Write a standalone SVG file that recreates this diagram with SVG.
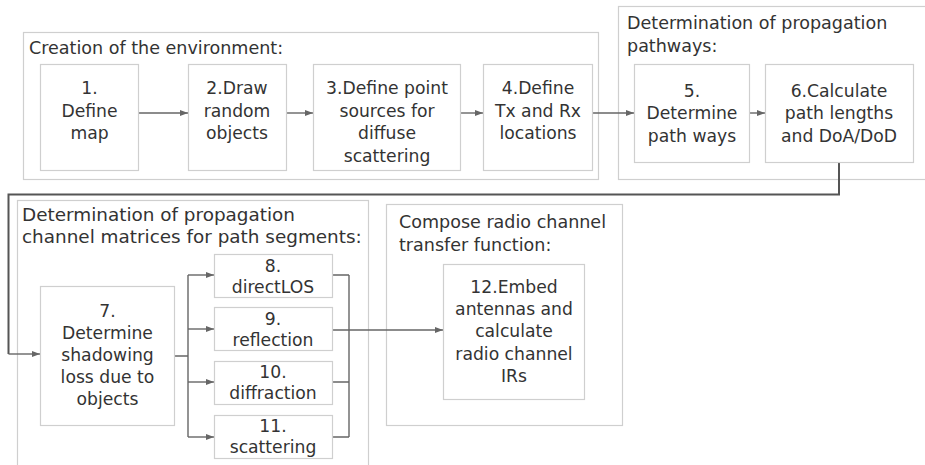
<svg xmlns="http://www.w3.org/2000/svg" width="925" height="465" viewBox="0 0 925 465">
<defs>
<marker id="ah" markerUnits="userSpaceOnUse" markerWidth="10" markerHeight="8" refX="8" refY="4" orient="auto">
<path d="M0,1 L8,4 L0,7 Z" fill="#666"/>
</marker>
<style>
.grp{fill:none;stroke:#cfcfcf;stroke-width:1.2}
.box{fill:#fff;stroke:#cfcfcf;stroke-width:1.2}
text{font-family:"DejaVu Sans","Liberation Sans",sans-serif;font-size:17.2px;fill:#333}
.t{font-size:17.55px}
.t3{font-size:18.4px}
.c{text-anchor:middle}
.ln{fill:none;stroke:#666;stroke-width:1.4}
.lnd{fill:none;stroke:#555;stroke-width:2}
</style>
</defs>
<rect width="925" height="465" fill="#fff"/>
<g id="group-environment">
<rect class="grp" x="23.5" y="32.5" width="575" height="147"/>
<text class="t" x="29" y="54">Creation of the environment:</text>
</g>
<g id="group-pathways">
<rect class="grp" x="618.5" y="6.5" width="310" height="173"/>
<text class="t" x="627" y="29">Determination of propagation</text>
<text class="t" x="627" y="52">pathways:</text>
</g>
<g id="group-matrices">
<rect class="grp" x="17.5" y="200.5" width="351" height="270"/>
<text class="t3" x="22" y="221">Determination of propagation</text>
<text class="t3" x="22" y="243">channel matrices for path segments:</text>
</g>
<g id="group-compose">
<rect class="grp" x="386.5" y="204.5" width="236" height="221"/>
<text class="t" x="399" y="228">Compose radio channel</text>
<text class="t" x="399" y="251">transfer function:</text>
</g>
<g id="connectors">
<path class="ln" d="M139,113 H188" marker-end="url(#ah)"/>
<path class="ln" d="M286,113 H313" marker-end="url(#ah)"/>
<path class="ln" d="M460,113 H483" marker-end="url(#ah)"/>
<path class="ln" d="M592,113 H634" marker-end="url(#ah)"/>
<path class="ln" d="M749,113 H765" marker-end="url(#ah)"/>
<path class="lnd" d="M839,162 V194.5 H8.5 V354"/>
<path class="ln" d="M8.5,354 H40" marker-end="url(#ah)"/>
<path class="ln" d="M175,356 H188 M188,275 V437"/>
<path class="ln" d="M188,275 H214" marker-end="url(#ah)"/>
<path class="ln" d="M188,329 H214" marker-end="url(#ah)"/>
<path class="ln" d="M188,382 H214" marker-end="url(#ah)"/>
<path class="ln" d="M188,437 H214" marker-end="url(#ah)"/>
<path class="ln" d="M332,275 H349 M332,330 H349 M332,382 H349 M332,437 H349 M349,275 V437"/>
<path class="ln" d="M349,330 H443" marker-end="url(#ah)"/>
</g>
<g id="n1">
<rect class="box" x="40.5" y="64.5" width="98" height="106"/>
<text class="c" x="89.5" y="94">1.</text>
<text class="c" x="89.5" y="117">Define</text>
<text class="c" x="89.5" y="139">map</text>
</g>
<g id="n2">
<rect class="box" x="188.5" y="64.5" width="98" height="106"/>
<text class="c" x="237" y="94">2.Draw</text>
<text class="c" x="237" y="117">random</text>
<text class="c" x="237" y="139">objects</text>
</g>
<g id="n3">
<rect class="box" x="313.5" y="64.5" width="147" height="106"/>
<text class="c" x="387" y="94">3.Define point</text>
<text class="c" x="387" y="117">sources for</text>
<text class="c" x="387" y="139">diffuse</text>
<text class="c" x="387" y="162">scattering</text>
</g>
<g id="n4">
<rect class="box" x="483.5" y="64.5" width="109" height="106"/>
<text class="c" x="538" y="94">4.Define</text>
<text class="c" x="538" y="117">Tx and Rx</text>
<text class="c" x="538" y="139">locations</text>
</g>
<g id="n5">
<rect class="box" x="634.5" y="64.5" width="115" height="98"/>
<text class="c" x="692" y="97">5.</text>
<text class="c" x="692" y="119">Determine</text>
<text class="c" x="692" y="142">path ways</text>
</g>
<g id="n6">
<rect class="box" x="765.5" y="64.5" width="148" height="98"/>
<text class="c" x="839" y="97">6.Calculate</text>
<text class="c" x="839" y="119">path lengths</text>
<text class="c" x="839" y="142">and DoA/DoD</text>
</g>
<g id="n7">
<rect class="box" x="40.5" y="286.5" width="134" height="139"/>
<text class="c" x="107.5" y="317">7.</text>
<text class="c" x="107.5" y="339">Determine</text>
<text class="c" x="107.5" y="361">shadowing</text>
<text class="c" x="107.5" y="383">loss due to</text>
<text class="c" x="107.5" y="405">objects</text>
</g>
<g id="n8">
<rect class="box" x="214.5" y="254.5" width="118" height="43"/>
<text class="c" x="273" y="272">8.</text>
<text class="c" x="273" y="293">directLOS</text>
</g>
<g id="n9">
<rect class="box" x="214.5" y="307.5" width="118" height="43"/>
<text class="c" x="273" y="325">9.</text>
<text class="c" x="273" y="346">reflection</text>
</g>
<g id="n10">
<rect class="box" x="214.5" y="361.5" width="118" height="43"/>
<text class="c" x="273" y="378">10.</text>
<text class="c" x="273" y="399">diffraction</text>
</g>
<g id="n11">
<rect class="box" x="214.5" y="415.5" width="118" height="43"/>
<text class="c" x="273" y="432">11.</text>
<text class="c" x="273" y="453">scattering</text>
</g>
<g id="n12">
<rect class="box" x="443.5" y="264.5" width="141" height="135"/>
<text class="c" x="514" y="293">12.Embed</text>
<text class="c" x="514" y="315">antennas and</text>
<text class="c" x="514" y="337">calculate</text>
<text class="c" x="514" y="360">radio channel</text>
<text class="c" x="514" y="382">IRs</text>
</g>
</svg>
